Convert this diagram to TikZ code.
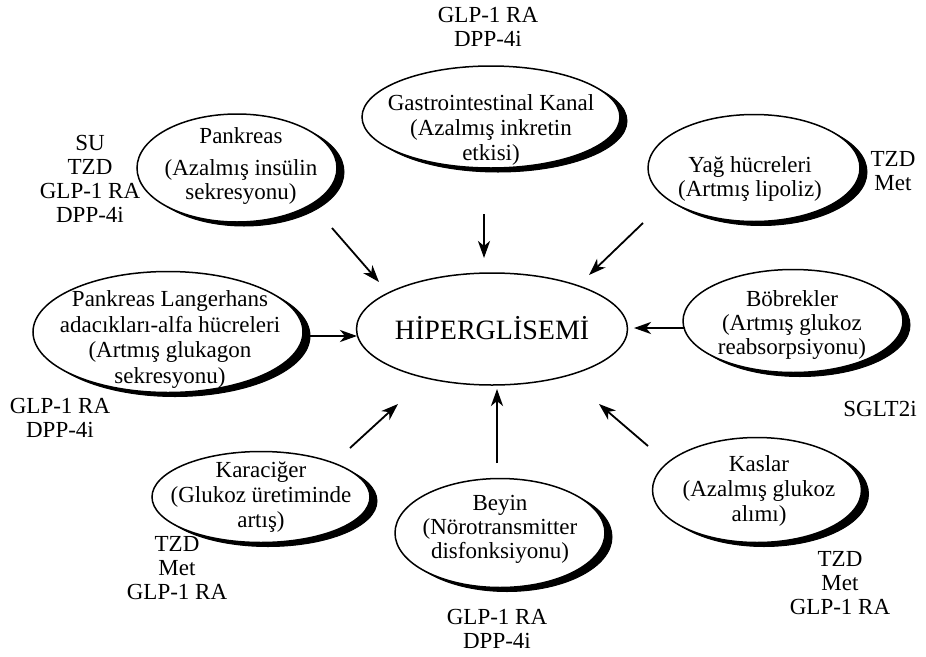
\documentclass[tikz,border=0pt]{standalone}
\usepackage{fontspec}
\setmainfont{Liberation Serif}
\usetikzlibrary{arrows.meta,shapes.geometric}
\tikzset{
  blob/.style={ellipse, draw=black, line width=1.5pt, fill=white, inner sep=0pt},
  blobshadow/.style={ellipse, fill=black, draw=black, line width=1pt, inner sep=0pt},
  txt/.style={align=center, anchor=base, inner sep=0pt, font=\fontsize{23}{24}\selectfont},
  drug/.style={align=center, anchor=base, inner sep=0pt, font=\fontsize{23}{24}\selectfont},
  arr/.style={-{Stealth[length=17pt,width=12pt,inset=5pt]}, line width=1.8pt},
  arrthick/.style={-{Stealth[length=17pt,width=12pt,inset=5pt]}, line width=2.6pt},
}
\begin{document}
\begin{tikzpicture}[x=1pt,y=-1pt]
\useasboundingbox (0,0) rectangle (926,656);
% shadows
\node[blobshadow, minimum width=258pt, minimum height=102pt] (gastroS) at (498,121) {};
\node[blobshadow, minimum width=200pt, minimum height=108pt] (pankS) at (244,172) {};
\node[blobshadow, minimum width=212pt, minimum height=107pt] (yagS) at (761,172) {};
\node[blobshadow, minimum width=270pt, minimum height=121pt] (langS) at (175,336) {};
\node[blobshadow, minimum width=220pt, minimum height=103pt] (bobS) at (800,325) {};
\node[blobshadow, minimum width=218pt, minimum height=91pt] (karS) at (268,501) {};
\node[blobshadow, minimum width=210pt, minimum height=109pt] (beyS) at (507,537) {};
\node[blobshadow, minimum width=209pt, minimum height=105pt] (kasS) at (764,494) {};
% ellipses
\node[blob, minimum width=258pt, minimum height=102pt] (gastro) at (491,117) {};
\node[blob, minimum width=200pt, minimum height=108pt] (pank) at (237,168) {};
\node[blob, minimum width=212pt, minimum height=107pt] (yag) at (754,168) {};
\node[blob, minimum width=270pt, minimum height=121pt] (lang) at (168,332) {};
\node[blob, minimum width=271pt, minimum height=112pt] (hyper) at (492,329) {};
\node[blob, minimum width=220pt, minimum height=103pt] (bob) at (793,321) {};
\node[blob, minimum width=218pt, minimum height=91pt] (kar) at (261,497) {};
\node[blob, minimum width=210pt, minimum height=109pt] (bey) at (500,533) {};
\node[blob, minimum width=209pt, minimum height=105pt] (kas) at (757,490) {};
% texts (anchor base = last line's baseline)
\node[txt, font=\fontsize{23}{25}\selectfont] (gastroT) at (491,160) {Gastrointestinal Kanal\\(Azalmış inkretin\\etkisi)};
\node[txt] (pankT) at (241,199) {Pankreas\\[8pt](Azalmış insülin\\sekresyonu)};
\node[txt] (yagT) at (750,196) {Yağ hücreleri\\(Artmış lipoliz)};
\node[txt, font=\fontsize{23}{25.5}\selectfont] (langT) at (170,383) {Pankreas Langerhans\\adacıkları-alfa hücreleri\\(Artmış glukagon\\sekresyonu)};
\node[anchor=base, inner sep=0pt, font=\fontsize{28}{30}\selectfont] (hyperT) at (492,339) {HİPERGLİSEMİ};
\node[txt] (bobT) at (792,354) {Böbrekler\\(Artmış glukoz\\reabsorpsiyonu)};
\node[txt, font=\fontsize{23}{25}\selectfont] (karT) at (261,527) {Karaciğer\\(Glukoz üretiminde\\artış)};
\node[txt] (beyT) at (500,558) {Beyin\\(Nörotransmitter\\disfonksiyonu)};
\node[txt, font=\fontsize{23}{25}\selectfont] (kasT) at (759,521) {Kaslar\\(Azalmış glukoz\\alımı)};
% drug labels
\node[drug] (d1) at (488,46) {GLP-1 RA\\DPP-4i};
\node[drug] (d2) at (90,222) {SU\\TZD\\GLP-1 RA\\DPP-4i};
\node[drug] (d3) at (893,190) {TZD\\Met};
\node[drug] (d4) at (60,437) {GLP-1 RA\\DPP-4i};
\node[drug] (d5) at (880,416) {SGLT2i};
\node[drug] (d6) at (177,599) {TZD\\Met\\GLP-1 RA};
\node[drug] (d7) at (497,648) {GLP-1 RA\\DPP-4i};
\node[drug] (d8) at (840,614) {TZD\\Met\\GLP-1 RA};
% arrow ends
\coordinate (a1s) at (332,228); \coordinate (a1e) at (379,282);
\coordinate (a2s) at (484,214); \coordinate (a2e) at (484,258);
\coordinate (a3s) at (643,223); \coordinate (a3e) at (589,275);
\coordinate (a4s) at (306,336); \coordinate (a4e) at (357,336);
\coordinate (a5s) at (685,328); \coordinate (a5e) at (634,328);
\coordinate (a6s) at (350,448); \coordinate (a6e) at (398,404);
\coordinate (a7s) at (497,463); \coordinate (a7e) at (497,389);
\coordinate (a8s) at (648,446); \coordinate (a8e) at (599,404);
\draw[arr] (a1s) -- (a1e);
\draw[arrthick] (a2s) -- (a2e);
\draw[arr] (a3s) -- (a3e);
\draw[arrthick] (a4s) -- (a4e);
\draw[arrthick] (a5s) -- (a5e);
\draw[arr] (a6s) -- (a6e);
\draw[arrthick] (a7s) -- (a7e);
\draw[arr] (a8s) -- (a8e);
\end{tikzpicture}
\end{document}
